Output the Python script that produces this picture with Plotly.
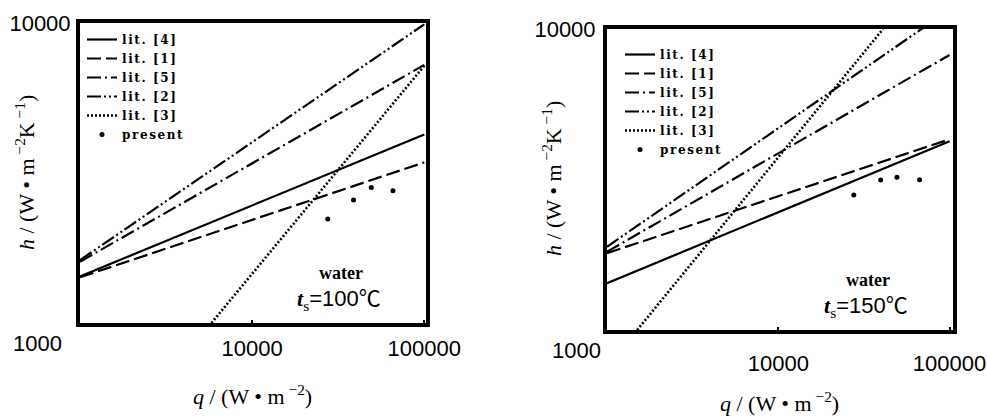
import plotly.graph_objects as go

# ---------------- data ----------------
series_names = ["lit. [4]", "lit. [1]", "lit. [5]", "lit. [2]", "lit. [3]"]
series_dash = ["solid", "14px,5px", "14px,4px,2px,4px", "14px,3px,2px,3px,2px,3px", "2px,2px"]

# t_s = 100 C  (left panel) : correlation lines, endpoints (q, h)
q_100 = {
    "lit. [4]": [1000, 100000],
    "lit. [1]": [1000, 100000],
    "lit. [5]": [1000, 100000],
    "lit. [2]": [1000, 100000],
    "lit. [3]": [5800, 100000],
}
h_100 = {
    "lit. [4]": [1430, 4250],
    "lit. [1]": [1420, 3430],
    "lit. [5]": [1600, 7250],
    "lit. [2]": [1620, 9900],
    "lit. [3]": [1000, 7200],
}
present_q_100 = [27500, 38800, 49200, 65800]
present_h_100 = [2220, 2570, 2830, 2760]

# t_s = 150 C  (right panel)
q_150 = {
    "lit. [4]": [1000, 100000],
    "lit. [1]": [1000, 100000],
    "lit. [5]": [1000, 100000],
    "lit. [2]": [1000, 100000],
    "lit. [3]": [1500, 40900],
}
h_150 = {
    "lit. [4]": [1430, 4240],
    "lit. [1]": [1800, 4300],
    "lit. [5]": [1820, 8200],
    "lit. [2]": [1890, 11600],
    "lit. [3]": [1000, 10000],
}
present_q_150 = [27600, 39600, 49300, 66800]
present_h_150 = [2810, 3150, 3220, 3155]

x_tickvals = [10000, 100000]
x_ticktext = ["10000", "100000"]
y_tickvals = [10000]
y_ticktext = ["10000"]
corner_label = "1000"
panel_temps = ["100", "150"]
fluid_label = "water"
x_title = "<i>q</i> / (W • m<sup> −2</sup>)"
y_title = "<i>h</i> / (W • m<sup> −2</sup>K<sup> −1</sup>)"

# ---------------- figure ----------------
W, H = 987, 417
ML, MR, MT, MB = 80, 34, 23, 87
pw = W - ML - MR
ph = H - MT - MB


def px_x(p):
    return (p - ML) / pw


def px_y(p):
    return (H - MB - p) / ph


fig = go.Figure()

SERIF = "Liberation Serif, DejaVu Serif, serif"
SANS = "Liberation Sans, Arial, sans-serif"
LEGF = "DejaVu Serif, Liberation Serif, serif"


def leg_label(s):
    return "<span style='letter-spacing:1.6px'>" + s + "</span>"


panels = [
    ("x", "y", "legend", q_100, h_100, present_q_100, present_h_100),
    ("x2", "y2", "legend2", q_150, h_150, present_q_150, present_h_150),
]
for xa, ya, lg, qd, hd, pq, ph_ in panels:
    for name, dash in zip(series_names, series_dash):
        fig.add_trace(go.Scatter(
            x=qd[name], y=hd[name], mode="lines", name=leg_label(name),
            xaxis=xa, yaxis=ya, legend=lg,
            line=dict(color="black", width=2.2 if dash != "2px,2px" else 2.6, dash=dash),
        ))
    fig.add_trace(go.Scatter(
        x=pq, y=ph_, mode="markers", name=leg_label("present"),
        xaxis=xa, yaxis=ya, legend=lg,
        marker=dict(color="black", size=5),
    ))

axis_common = dict(
    type="log", showgrid=False, zeroline=False, automargin=False,
    showline=True, linecolor="black", linewidth=4, mirror=True,
    ticks="inside", ticklen=3, tickwidth=2, tickcolor="black",
    tickfont=dict(family=SANS, size=22, color="black"),
)

fig.update_layout(
    width=W, height=H,
    margin=dict(l=ML, r=MR, t=MT, b=MB, autoexpand=False),
    paper_bgcolor="white", plot_bgcolor="white",
    xaxis=dict(axis_common, domain=[0, px_x(426)], range=[3, 5.01],
               tickvals=x_tickvals, ticktext=x_ticktext, anchor="y",
               ticklabelstandoff=3),
    yaxis=dict(axis_common, domain=[px_y(323), 1], range=[3, 4],
               tickvals=y_tickvals, ticktext=y_ticktext, anchor="x",
               ticklabelstandoff=1),
    xaxis2=dict(axis_common, domain=[px_x(607), 1], range=[3, 5.02],
                tickvals=x_tickvals, ticktext=x_ticktext, anchor="y2",
                ticklabelstandoff=11),
    yaxis2=dict(axis_common, domain=[0, px_y(29)], range=[3, 4],
                tickvals=y_tickvals, ticktext=y_ticktext, anchor="x2",
                ticklabelstandoff=3),
    legend=dict(x=px_x(82), y=px_y(25), xanchor="left", yanchor="top",
                bgcolor="rgba(0,0,0,0)", borderwidth=0, itemwidth=30,
                font=dict(family=LEGF, size=12, color="black", weight="bold"),
                tracegroupgap=0),
    legend2=dict(x=px_x(620), y=px_y(40), xanchor="left", yanchor="top",
                 bgcolor="rgba(0,0,0,0)", borderwidth=0, itemwidth=30,
                 font=dict(family=LEGF, size=12, color="black", weight="bold"),
                 tracegroupgap=0),
    showlegend=True,
)

ann = []
for xs, ys, temp, corner_dx, dims in [("x", "y", panel_temps[0], -43, (80, 426, 23, 323)),
                                      ("x2", "y2", panel_temps[1], -31, (607, 953, 29, 330))]:
    x0, x1, y0, y1 = dims
    wd, ht = x1 - x0, y1 - y0

    def dx(p, x0=x0, wd=wd):
        return (p - x0) / wd

    def dy(p, y1=y1, ht=ht):
        return (y1 - p) / ht

    xr, yr = xs + " domain", ys + " domain"
    base = dict(xref=xr, yref=yr, showarrow=False, xanchor="center", yanchor="middle")
    ann.append(dict(base, text=y_title, x=dx(x0 - 55), y=dy(y0 + 150), textangle=-90,
                    font=dict(family=SERIF, size=22, color="black")))
    ann.append(dict(base, text=x_title, x=dx(x0 + 172), y=dy(y1 + 72),
                    font=dict(family=SERIF, size=22, color="black")))
    ann.append(dict(base, text=corner_label, x=dx(x0 + corner_dx), y=dy(y1 + 20),
                    font=dict(family=SANS, size=22, color="black")))
    ann.append(dict(base, text="<b>" + fluid_label + "</b>",
                    x=dx(x0 + 261), y=dy(y1 - 50),
                    font=dict(family=SERIF, size=18, color="black")))
    label = ("<span style='font-family:Liberation Serif'><b><i>t</i></b><sub>s</sub></span>"
             "=" + temp + "<span style='font-family:Noto Sans CJK JP'>℃</span>")
    ann.append(dict(base, text=label, x=dx(x0 + 259), y=dy(y1 - 26),
                    font=dict(family=SANS, size=22, color="black")))
fig.update_layout(annotations=ann)

fig.write_html("out.html")
